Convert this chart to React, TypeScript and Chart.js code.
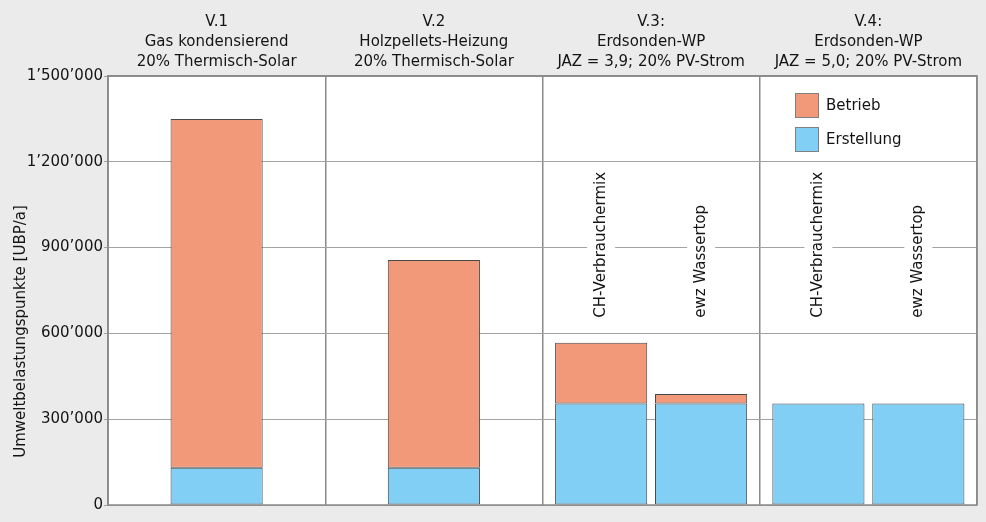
import React, { useEffect, useRef } from 'react';
import { Chart, registerables } from 'chart.js';

Chart.register(...registerables);

// ---- data ----
const variantLabels: string[][] = [
  ['V.1', 'Gas kondensierend', '20% Thermisch-Solar'],
  ['V.2', 'Holzpellets-Heizung', '20% Thermisch-Solar'],
  ['V.3:', 'Erdsonden-WP', 'JAZ = 3,9; 20% PV-Strom'],
  ['V.4:', 'Erdsonden-WP', 'JAZ = 5,0; 20% PV-Strom'],
];
const seriesNames = ['Betrieb', 'Erstellung'];
const strommixNames = ['CH-Verbrauchermix', 'ewz Wassertop'];
const yAxisTitle = 'Umweltbelastungspunkte [UBP/a]';

// single bar variants (V.1, V.2)
const erstellungSingle = [130000, 130000, null, null];
const betriebSingle = [1220000, 727000, null, null];
// paired variants (V.3, V.4): CH-Verbrauchermix | ewz Wassertop
const erstellungCH = [null, null, 355000, 355000];
const betriebCH = [null, null, 212000, 0];
const erstellungEwz = [null, null, 355000, 355000];
const betriebEwz = [null, null, 33000, 0];

const yMin = 0;
const yMax = 1500000;
const yStep = 300000;
const strommixLabelAnchor = 655000;

// ---- styles ----
const FONT = 'DejaVu Sans';
const FS = 15;
const TEXT = '#141414';
const BETRIEB = '#f2997a';
const ERSTELLUNG = '#81cff4';
const BAR_BORDER = '#484848';
const FRAME = '#8a8a8a';
const GRID = '#a3a3a3';
const OUTER_BG = '#ebebeb';

const fmt = (v: number) => String(Math.round(v)).replace(/\B(?=(\d{3})+(?!\d))/g, '\u2019');

const decor = {
  id: 'decor',
  beforeDraw(chart: any) {
    const { ctx, chartArea: a, width, height } = chart;
    ctx.save();
    ctx.fillStyle = OUTER_BG;
    ctx.fillRect(0, 0, width, height);
    ctx.fillStyle = '#ffffff';
    ctx.fillRect(a.left, a.top, a.right - a.left, a.bottom - a.top);
    ctx.restore();
  },
  afterDatasetsDraw(chart: any) {
    const { ctx, chartArea: a, scales } = chart;
    const y = scales.y;
    ctx.save();
    ctx.font = `${FS}px '${FONT}'`;
    // rotated strommix labels above paired bars
    const pairMetas = [chart.getDatasetMeta(2), chart.getDatasetMeta(4)];
    const anchorY = y.getPixelForValue(strommixLabelAnchor);
    pairMetas.forEach((meta: any, k: number) => {
      const txt = strommixNames[k];
      const w = ctx.measureText(txt).width;
      const ds = chart.data.datasets[meta.index];
      meta.data.forEach((el: any, i: number) => {
        const v = ds.data[i];
        if (v === null || v === undefined) return;
        const cx = el.x;
        ctx.fillStyle = '#ffffff';
        ctx.fillRect(cx - 14, anchorY - w - 3, 28, w + 6);
        ctx.save();
        ctx.translate(cx, anchorY);
        ctx.rotate(-Math.PI / 2);
        ctx.fillStyle = TEXT;
        ctx.textAlign = 'left';
        ctx.textBaseline = 'middle';
        ctx.fillText(txt, 0, 0);
        ctx.restore();
      });
    });
    // frame
    ctx.strokeStyle = FRAME;
    ctx.lineWidth = 1.5;
    ctx.strokeRect(a.left, a.top, a.right - a.left, a.bottom - a.top);
    // legend
    const colors = [BETRIEB, ERSTELLUNG];
    const lx = a.right - 182;
    seriesNames.forEach((name, i) => {
      const by = a.top + 17 + i * 34;
      ctx.fillStyle = colors[i];
      ctx.fillRect(lx, by, 24, 25);
      ctx.strokeStyle = '#808080';
      ctx.lineWidth = 1;
      ctx.strokeRect(lx + 0.5, by + 0.5, 23, 24);
      ctx.fillStyle = TEXT;
      ctx.textAlign = 'left';
      ctx.textBaseline = 'middle';
      ctx.fillText(name, lx + 31, by + 13);
    });
    ctx.restore();
  },
  afterDraw(chart: any) {
    const { ctx } = chart;
    ctx.save();
    ctx.font = `${FS}px '${FONT}'`;
    ctx.fillStyle = TEXT;
    ctx.translate(21.5, 331.5);
    ctx.rotate(-Math.PI / 2);
    ctx.textAlign = 'center';
    ctx.textBaseline = 'middle';
    ctx.fillText(yAxisTitle, 0, 0);
    ctx.restore();
  },
};

export default function App() {
  const ref = useRef<HTMLCanvasElement | null>(null);

  useEffect(() => {
    document.body.style.margin = '0';
    const canvas = ref.current;
    if (!canvas) return;
    const common = {
      borderColor: BAR_BORDER,
      borderWidth: 1,
      borderSkipped: false,
      skipNull: true,
      categoryPercentage: 0.92,
    };
    const chart = new Chart(canvas, {
      type: 'bar',
      data: {
        labels: variantLabels,
        datasets: [
          { ...common, label: seriesNames[1], data: erstellungSingle, backgroundColor: ERSTELLUNG, stack: 'single', barPercentage: 0.461 },
          { ...common, label: seriesNames[0], data: betriebSingle, backgroundColor: BETRIEB, stack: 'single', barPercentage: 0.461 },
          { ...common, label: seriesNames[1], data: erstellungCH, backgroundColor: ERSTELLUNG, stack: 'ch', barPercentage: 0.922 },
          { ...common, label: seriesNames[0], data: betriebCH, backgroundColor: BETRIEB, stack: 'ch', barPercentage: 0.922 },
          { ...common, label: seriesNames[1], data: erstellungEwz, backgroundColor: ERSTELLUNG, stack: 'ewz', barPercentage: 0.922 },
          { ...common, label: seriesNames[0], data: betriebEwz, backgroundColor: BETRIEB, stack: 'ewz', barPercentage: 0.922 },
        ] as any,
      },
      options: {
        animation: false,
        responsive: false,
        maintainAspectRatio: false,
        layout: { padding: { left: 0, right: 9, top: 0, bottom: 17 } },
        plugins: {
          legend: { display: false },
          tooltip: { enabled: false },
          title: { display: false },
        },
        scales: {
          x: {
            position: 'top',
            stacked: true,
            grid: { offset: true, color: FRAME, lineWidth: 1.5, drawTicks: false },
            border: { display: true, color: FRAME, width: 1.5 },
            ticks: {
              padding: 4,
              color: TEXT,
              maxRotation: 0,
              autoSkip: false,
              font: { family: FONT, size: FS, lineHeight: 20 / FS },
            },
            afterFit: (s: any) => { s.height = 76; },
          },
          y: {
            stacked: true,
            min: yMin,
            max: yMax,
            grid: { color: GRID, lineWidth: 1, tickLength: 4 },
            border: { display: true, color: FRAME, width: 1.5 },
            ticks: {
              stepSize: yStep,
              padding: 1,
              color: TEXT,
              font: { family: FONT, size: FS },
              callback: (v: any) => fmt(Number(v)),
            },
            afterFit: (s: any) => { s.width = 108; },
          },
        },
      } as any,
      plugins: [decor],
    });
    return () => chart.destroy();
  }, []);

  return (
    <div style={{ width: 986, height: 522 }}>
      <canvas ref={ref} width={986} height={522} style={{ display: 'block', width: 986, height: 522 }} />
    </div>
  );
}
